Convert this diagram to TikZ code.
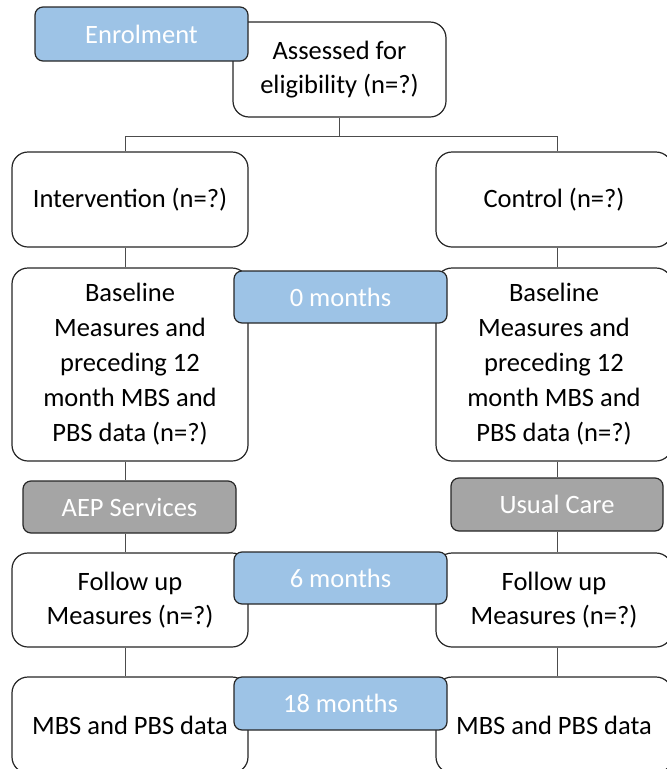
\documentclass[tikz,border=0pt]{standalone}
\usepackage{fontspec}
\setmainfont{Carlito}
\definecolor{blueF}{HTML}{9DC3E6}
\definecolor{grayF}{HTML}{A5A5A5}
\definecolor{edge}{HTML}{262626}
\begin{document}
\begin{tikzpicture}[x=1pt,y=-1pt,
  box/.style={draw=edge, line width=1.2pt, rounded corners=16pt, fill=white, align=center,
    inner sep=0pt, minimum width=236pt, font=\fontsize{26.5}{34}\selectfont},
  tallbox/.style={box, font=\fontsize{26.5}{35}\selectfont},
  tag/.style={draw=edge, line width=1.2pt, rounded corners=8pt, fill=blueF, text=white,
    inner sep=0pt, minimum width=213pt, minimum height=53pt, font=\fontsize{26.5}{34}\selectfont},
  gtag/.style={tag, fill=grayF},
  link/.style={draw=black!70, line width=1pt}]
\useasboundingbox (0,0) rectangle (667,769);
\clip (0,0) rectangle (667,769);

% white boxes
\node[box, minimum width=213pt, minimum height=95pt] (assess) at (339.5,69.5) {Assessed for\\eligibility (n=?)};
\node[box, minimum height=95pt] (interv) at (130,199.5) {Intervention (n=?)};
\node[box, minimum height=95pt] (control) at (554,199.5) {Control (n=?)};
\node[tallbox, minimum height=193pt] (baseL) at (130,364.5) {Baseline\\Measures and\\preceding 12\\month MBS and\\PBS data (n=?)};
\node[tallbox, minimum height=193pt] (baseR) at (554,364.5) {Baseline\\Measures and\\preceding 12\\month MBS and\\PBS data (n=?)};
\node[box, minimum height=94pt] (fuL) at (130,600) {Follow up\\Measures (n=?)};
\node[box, minimum height=94pt] (fuR) at (554,600) {Follow up\\Measures (n=?)};
\node[box, minimum height=96pt] (mbsL) at (130,725) {MBS and PBS data};
\node[box, minimum height=96pt] (mbsR) at (554,725) {MBS and PBS data};

% coloured tags
\node[tag, minimum height=54pt] (enrol) at (141.5,34) {Enrolment};
\node[tag, minimum height=52pt] (m0) at (340.5,297) {0 months};
\node[tag, minimum height=52pt] (m6) at (340.5,578) {6 months};
\node[tag] (m18) at (340.5,703.5) {18 months};
\node[gtag, minimum height=52pt] (aep) at (129.5,507) {AEP Services};
\node[gtag, minimum width=212pt] (usual) at (557,504.5) {Usual Care};

% connectors
\coordinate (lx) at (125,0);
\coordinate (rx) at (557,0);
\coordinate (bus) at (0,136);
\draw[link] (assess.south) -- (assess.south |- bus);
\draw[link] (lx |- bus) -- (rx |- bus);
\draw[link] (lx |- bus) -- (lx |- interv.north);
\draw[link] (rx |- bus) -- (rx |- control.north);
\draw[link] (lx |- interv.south) -- (lx |- baseL.north);
\draw[link] (rx |- control.south) -- (rx |- baseR.north);
\draw[link] (lx |- baseL.south) -- (lx |- aep.north);
\draw[link] (rx |- baseR.south) -- (rx |- usual.north);
\draw[link] (lx |- aep.south) -- (lx |- fuL.north);
\draw[link] (rx |- usual.south) -- (rx |- fuR.north);
\draw[link] (lx |- fuL.south) -- (lx |- mbsL.north);
\draw[link] (rx |- fuR.south) -- (rx |- mbsR.north);
\end{tikzpicture}
\end{document}
